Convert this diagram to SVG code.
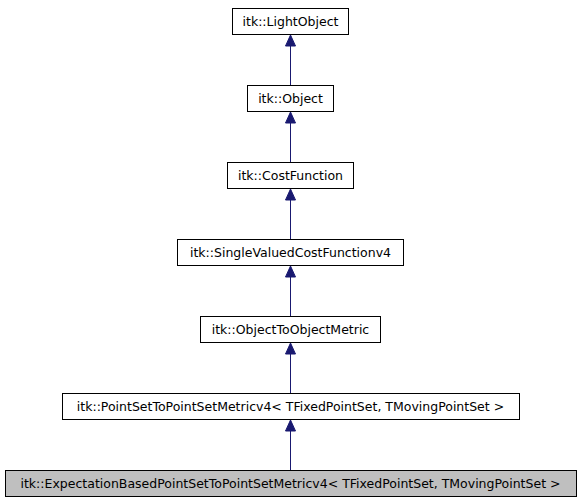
<svg xmlns="http://www.w3.org/2000/svg" width="581" height="504" viewBox="0 0 581 504">
<style>
.n rect{fill:#ffffff;stroke:#000000;stroke-width:1}
.n.cur rect{fill:#bfbfbf}
.n text{font-family:"DejaVu Sans",sans-serif;font-size:12.5px;fill:#000000;text-anchor:middle}
.e line{stroke:#191970;stroke-width:1}
.e polygon{fill:#191970;stroke:#191970;stroke-width:1}
</style>
<rect width="581" height="504" fill="#ffffff"/>
<g id="edges" class="e">
<line x1="290.5" y1="46" x2="290.5" y2="85"/><polygon points="290.5,35 285.5,46 295.5,46"/>
<line x1="290.5" y1="123" x2="290.5" y2="162"/><polygon points="290.5,112 285.5,123 295.5,123"/>
<line x1="290.5" y1="200" x2="290.5" y2="239"/><polygon points="290.5,189 285.5,200 295.5,200"/>
<line x1="290.5" y1="277" x2="290.5" y2="316"/><polygon points="290.5,266 285.5,277 295.5,277"/>
<line x1="290.5" y1="354" x2="290.5" y2="393"/><polygon points="290.5,343 285.5,354 295.5,354"/>
<line x1="290.5" y1="431" x2="290.5" y2="470"/><polygon points="290.5,420 285.5,431 295.5,431"/>
</g>
<g id="node_lightobject" class="n"><rect x="232.5" y="8.5" width="116" height="26"/><text x="290.5" y="26">itk::LightObject</text></g>
<g id="node_object" class="n"><rect x="247.5" y="85.5" width="86" height="26"/><text x="290.5" y="103">itk::Object</text></g>
<g id="node_costfunction" class="n"><rect x="227.5" y="162.5" width="126" height="26"/><text x="290.5" y="180">itk::CostFunction</text></g>
<g id="node_singlevalued" class="n"><rect x="177.5" y="239.5" width="226" height="26"/><text x="290.5" y="257">itk::SingleValuedCostFunctionv4</text></g>
<g id="node_objtoobj" class="n"><rect x="200.5" y="316.5" width="180" height="26"/><text x="290.5" y="334">itk::ObjectToObjectMetric</text></g>
<g id="node_pointset" class="n"><rect x="62.5" y="393.5" width="457" height="26"/><text x="290.5" y="411">itk::PointSetToPointSetMetricv4&lt; TFixedPointSet, TMovingPointSet &gt;</text></g>
<g id="node_expectation" class="n cur"><rect x="5.5" y="470.5" width="571" height="26"/><text x="290.5" y="488">itk::ExpectationBasedPointSetToPointSetMetricv4&lt; TFixedPointSet, TMovingPointSet &gt;</text></g>
</svg>
